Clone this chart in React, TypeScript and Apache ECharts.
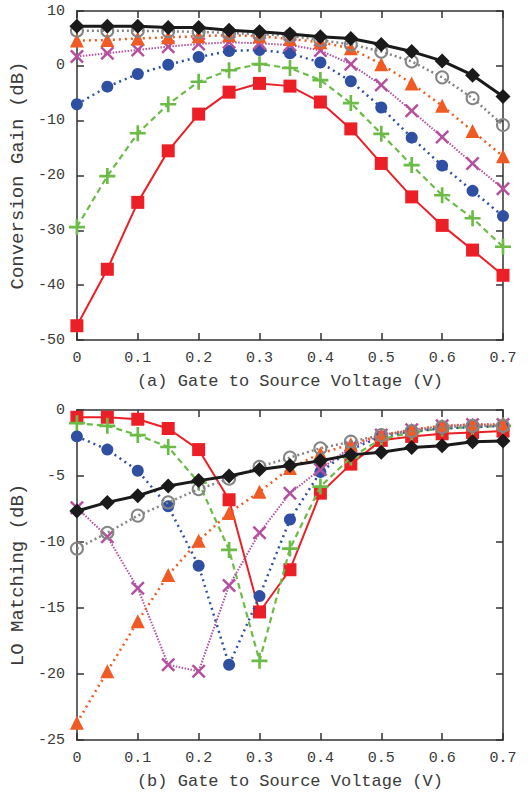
import React, { useEffect, useRef } from "react";
import * as echarts from "echarts";

const xs = [0, 0.05, 0.1, 0.15, 0.2, 0.25, 0.3, 0.35, 0.4, 0.45, 0.5, 0.55, 0.6, 0.65, 0.7];

// (a) Conversion Gain (dB)
const gainRed = [-47.4, -37.1, -24.9, -15.5, -8.8, -4.8, -3.2, -3.7, -6.6, -11.5, -17.8, -23.9, -29.1, -33.6, -38.2];
const gainGreen = [-29.4, -20.1, -12.3, -7.0, -2.9, -0.8, 0.3, -0.4, -2.6, -6.8, -12.4, -18.1, -23.6, -27.8, -33.0];
const gainBlue = [-7.0, -3.8, -1.5, 0.2, 1.6, 2.7, 2.9, 2.3, 0.6, -2.8, -7.6, -13.1, -18.2, -22.8, -27.4];
const gainMagenta = [1.7, 2.3, 2.9, 3.5, 4.0, 4.3, 4.1, 3.8, 2.8, 0.3, -3.5, -8.2, -13.0, -17.8, -22.4];
const gainOrange = [4.6, 4.7, 5.0, 5.2, 5.4, 5.6, 5.4, 4.9, 4.3, 3.2, 0.3, -3.2, -7.3, -11.9, -16.5];
const gainGray = [6.4, 6.4, 6.4, 6.3, 6.2, 6.0, 5.8, 5.5, 4.7, 3.9, 2.6, 0.8, -2.1, -5.9, -10.8];
const gainBlack = [7.2, 7.2, 7.2, 7.0, 7.0, 6.5, 6.2, 5.8, 5.3, 5.0, 3.9, 2.6, 0.9, -1.7, -5.6];

// (b) LO Matching (dB)
const loRed = [-0.55, -0.55, -0.7, -1.4, -3.0, -6.8, -15.3, -12.1, -6.3, -4.1, -2.3, -2.0, -1.8, -1.7, -1.6];
const loGreen = [-1.0, -1.2, -1.9, -2.8, -5.5, -10.6, -19.0, -10.5, -5.8, -3.6, -2.2, -1.7, -1.4, -1.3, -1.2];
const loBlue = [-2.0, -3.0, -4.6, -7.3, -11.8, -19.3, -14.1, -8.3, -4.7, -3.0, -2.0, -1.6, -1.4, -1.3, -1.2];
const loMagenta = [-7.4, -9.6, -13.5, -19.3, -19.8, -13.3, -9.3, -6.3, -4.5, -2.8, -1.9, -1.5, -1.2, -1.1, -1.1];
const loOrange = [-23.7, -19.8, -16.0, -12.5, -9.9, -7.8, -6.2, -4.4, -3.3, -2.6, -1.9, -1.5, -1.2, -1.1, -1.1];
const loGray = [-10.5, -9.3, -8.0, -7.0, -6.0, -5.2, -4.3, -3.6, -2.9, -2.4, -1.9, -1.6, -1.3, -1.2, -1.2];
const loBlack = [-7.65, -7.0, -6.5, -5.75, -5.35, -5.0, -4.5, -4.2, -3.85, -3.4, -3.2, -2.85, -2.7, -2.4, -2.35];

const xName = ["(a) Gate to Source Voltage (V)", "(b) Gate to Source Voltage (V)"];
const yName = ["Conversion Gain (dB)", "LO Matching (dB)"];

const FONT = "Liberation Mono";
const TXT = "#3a3a3a";
const AX = "#333333";

const PLUS = "path://M5,0 H7 V5 H12 V7 H7 V12 H5 V7 H0 V5 H5 Z";
const CROSS =
  "path://M0,1.5 L1.5,0 L6,4.5 L10.5,0 L12,1.5 L7.5,6 L12,10.5 L10.5,12 L6,7.5 L1.5,12 L0,10.5 L4.5,6 Z";

type Style = {
  name: string;
  color: string;
  symbol: string;
  size: number;
  lineType: any;
  width: number;
  hollow?: boolean;
};

const styles: Style[] = [
  { name: "red", color: "#ec1f27", symbol: "rect", size: 13, lineType: "solid", width: 2 },
  { name: "green", color: "#6cbb47", symbol: PLUS, size: 16, lineType: [6, 4], width: 2.2 },
  { name: "blue", color: "#2f4fa2", symbol: "circle", size: 12, lineType: [2, 4], width: 2.5 },
  { name: "magenta", color: "#b5509e", symbol: CROSS, size: 14, lineType: [1.5, 1.5], width: 2 },
  { name: "orange", color: "#f05a24", symbol: "triangle", size: 14, lineType: [2, 4], width: 2.5 },
  { name: "gray", color: "#858585", symbol: "circle", size: 12, lineType: [2, 3], width: 2.5, hollow: true },
  { name: "black", color: "#1a1a1a", symbol: "diamond", size: 15, lineType: "solid", width: 3 },
];

const gainData = [gainRed, gainGreen, gainBlue, gainMagenta, gainOrange, gainGray, gainBlack];
const loData = [loRed, loGreen, loBlue, loMagenta, loOrange, loGray, loBlack];

function makeSeries(data: number[][], axisIdx: number) {
  return data.map((vals, i) => {
    const s = styles[i];
    return {
      type: "line",
      name: s.name,
      xAxisIndex: axisIdx,
      yAxisIndex: axisIdx,
      data: vals.map((v, j) => [xs[j], v]),
      symbol: s.symbol,
      symbolSize: s.size,
      clip: false,
      z: 2 + i,
      lineStyle: { color: s.color, width: s.width, type: s.lineType },
      itemStyle: s.hollow
        ? { color: "rgba(255,255,255,0)", borderColor: s.color, borderWidth: 2 }
        : { color: s.color, borderWidth: 0 },
    };
  });
}

export default function App() {
  const ref = useRef<HTMLDivElement>(null);
  useEffect(() => {
    if (!ref.current) return;
    const chart = echarts.init(ref.current, null, { renderer: "svg" });
    const grids = [
      { left: 76, top: 11, width: 427, height: 329 },
      { left: 76, top: 410, width: 427, height: 330 },
    ];
    const yRanges = [
      { min: -50, max: 10, interval: 10 },
      { min: -25, max: 0, interval: 5 },
    ];
    const lineSt = { color: AX, width: 1.5 };
    const xAxes: any[] = [];
    const yAxes: any[] = [];
    for (let g = 0; g < 2; g++) {
      xAxes.push({
        type: "value",
        gridIndex: g,
        min: 0,
        max: 0.7,
        interval: 0.1,
        position: "bottom",
        name: xName[g],
        nameLocation: "middle",
        nameGap: 33,
        nameTextStyle: { fontFamily: FONT, fontSize: 17, color: TXT },
        axisLine: { show: true, onZero: false, lineStyle: lineSt },
        axisTick: { show: true, inside: true, length: 7, lineStyle: lineSt },
        axisLabel: { fontFamily: FONT, fontSize: 15, color: TXT, margin: 11 },
        splitLine: { show: false },
      });
      yAxes.push({
        type: "value",
        gridIndex: g,
        ...yRanges[g],
        position: "left",
        name: yName[g],
        nameLocation: "middle",
        nameGap: 43,
        nameTextStyle: { fontFamily: FONT, fontSize: 19, color: TXT },
        axisLine: { show: true, onZero: false, lineStyle: lineSt },
        axisTick: { show: true, inside: true, length: 7, lineStyle: lineSt },
        axisLabel: { fontFamily: FONT, fontSize: 15, color: TXT, margin: 12 },
        splitLine: { show: false },
      });
    }
    for (let g = 0; g < 2; g++) {
      xAxes.push({
        type: "value",
        gridIndex: g,
        min: 0,
        max: 0.7,
        interval: 0.1,
        position: "top",
        axisLine: { show: true, onZero: false, lineStyle: lineSt },
        axisTick: { show: true, inside: true, length: 7, lineStyle: lineSt },
        axisLabel: { show: false },
        splitLine: { show: false },
      });
      yAxes.push({
        type: "value",
        gridIndex: g,
        ...yRanges[g],
        position: "right",
        axisLine: { show: true, onZero: false, lineStyle: lineSt },
        axisTick: { show: true, inside: true, length: 7, lineStyle: lineSt },
        axisLabel: { show: false },
        splitLine: { show: false },
      });
    }
    chart.setOption({
      animation: false,
      backgroundColor: "#ffffff",
      grid: grids,
      xAxis: xAxes,
      yAxis: yAxes,
      series: [...makeSeries(gainData, 0), ...makeSeries(loData, 1)],
    });
    return () => chart.dispose();
  }, []);
  return (
    <div
      ref={ref}
      style={{ position: "fixed", left: 0, top: 0, width: 532, height: 793, background: "#fff" }}
    />
  );
}
